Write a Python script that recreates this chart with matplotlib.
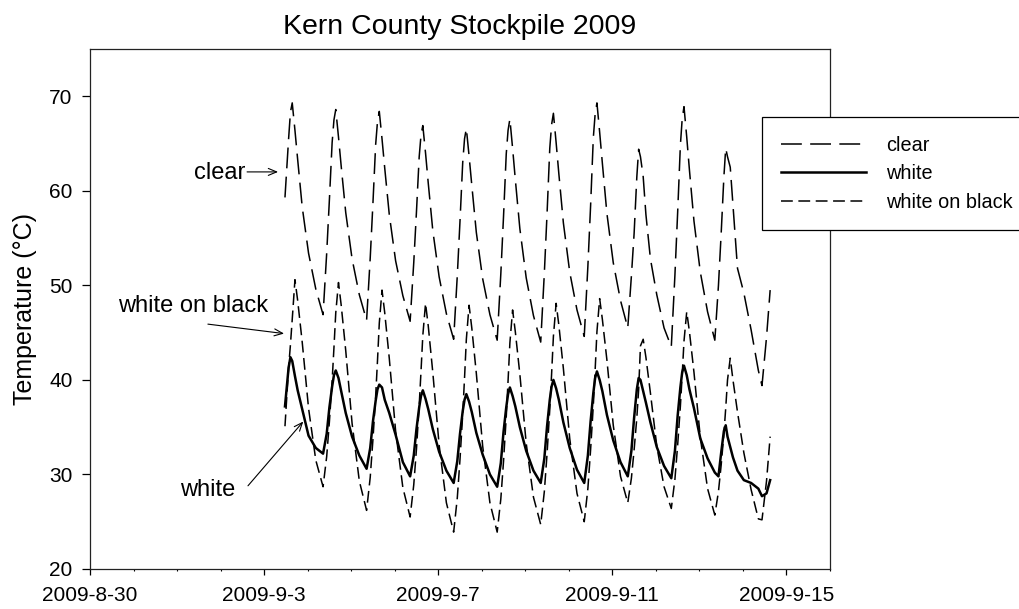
import datetime as dt
import matplotlib
matplotlib.use('Agg')
from matplotlib import pyplot as plt
import matplotlib.dates as mdates

plt.rcParams['font.family'] = ['Liberation Sans', 'DejaVu Sans']
plt.rcParams['lines.scale_dashes'] = False

# logger readings: one list per day, hours of day for each reading
days = ['2009-09-03', '2009-09-04', '2009-09-05', '2009-09-06', '2009-09-07', '2009-09-08',
        '2009-09-09', '2009-09-10', '2009-09-11', '2009-09-12', '2009-09-13', '2009-09-14']
hours_first = [11.5, 13.5, 14.5, 15.5, 17, 18.5, 21]
hours_full = [0.5, 4.5, 8.5, 10.5, 12, 13.5, 14.5, 15.5, 17, 18.5, 21]
hours_last = [0.5, 4.5, 8.5, 10.5, 13, 15]

clear = [
    [59.3, 65.5, 68.3, 69.3, 66.4, 63.3, 58.3],
    [53.4, 49.6, 46.9, 53.4, 59.1, 65.1, 67.5, 68.6, 65.7, 62.6, 57.7],
    [52.8, 49.0, 46.3, 52.9, 58.7, 64.9, 67.3, 68.4, 65.5, 62.4, 57.5],
    [52.6, 48.9, 46.2, 52.4, 57.8, 63.6, 65.9, 66.9, 64.0, 60.8, 55.8],
    [50.9, 47.0, 44.3, 51.0, 56.8, 63.0, 65.5, 66.6, 63.7, 60.6, 55.6],
    [50.7, 46.9, 44.2, 51.2, 57.3, 63.9, 66.4, 67.6, 64.5, 61.2, 56.0],
    [50.8, 46.8, 44.0, 51.3, 57.6, 64.5, 67.0, 68.2, 65.1, 61.8, 56.6],
    [51.4, 47.4, 44.6, 52.0, 58.4, 65.6, 68.1, 69.3, 66.2, 62.9, 57.6],
    [52.4, 48.4, 45.5, 51.0, 55.5, 61.5, 64.4, 63.6, 61.5, 57.5, 52.8],
    [49.0, 45.5, 43.5, 51.1, 57.7, 64.8, 67.6, 68.9, 65.7, 62.2, 56.8],
    [51.4, 47.2, 44.2, 50.0, 55.5, 61.5, 64.5, 63.6, 62.5, 58.5, 51.8],
    [49.2, 45.3, 41.0, 39.4, 44.5, 49.5],
]
white = [
    [37.2, 41.3, 42.4, 42.0, 40.4, 38.9, 36.9],
    [34.1, 32.8, 32.2, 34.3, 37.1, 39.3, 40.5, 41.0, 40.2, 38.8, 36.5],
    [34.0, 32.0, 30.6, 32.8, 35.6, 37.8, 39.0, 39.5, 39.2, 37.9, 36.5],
    [34.2, 31.3, 29.8, 32.0, 34.8, 37.1, 38.3, 38.9, 38.0, 36.9, 34.8],
    [32.4, 30.4, 29.1, 31.4, 34.3, 36.7, 37.9, 38.5, 37.7, 36.6, 34.4],
    [32.1, 30.0, 28.7, 31.2, 34.5, 37.1, 38.5, 39.2, 38.3, 37.2, 35.0],
    [32.5, 30.4, 29.1, 31.7, 35.1, 37.9, 39.3, 40.0, 39.1, 37.9, 35.5],
    [32.8, 30.5, 29.1, 32.0, 35.6, 38.6, 40.2, 40.9, 40.0, 38.8, 36.3],
    [33.6, 31.3, 29.8, 32.5, 36.0, 39.0, 40.2, 40.0, 38.8, 37.6, 35.5],
    [32.9, 30.9, 29.6, 32.5, 36.2, 39.2, 40.8, 41.5, 40.5, 39.0, 37.0],
    [33.8, 31.7, 30.2, 29.8, 32.3, 34.6, 35.2, 34.0, 32.9, 31.8, 30.4],
    [29.4, 29.1, 28.5, 27.7, 28.0, 29.4],
]
white_on_black = [
    [35.1, 41.3, 43.7, 46.4, 50.6, 48.4, 44.0],
    [37.0, 31.5, 28.7, 31.9, 35.6, 39.9, 43.4, 47.1, 50.3, 47.9, 43.1],
    [35.4, 29.3, 26.2, 29.7, 33.7, 38.3, 42.0, 46.0, 49.5, 47.1, 42.3],
    [34.6, 28.6, 25.5, 28.9, 32.7, 37.3, 40.9, 44.7, 48.1, 45.7, 40.8],
    [33.1, 27.0, 23.9, 27.5, 31.6, 36.4, 40.2, 44.3, 47.9, 45.5, 40.7],
    [33.0, 27.0, 23.9, 27.4, 31.4, 36.1, 39.9, 43.9, 47.4, 45.1, 40.6],
    [33.3, 27.6, 24.7, 28.2, 32.2, 36.9, 40.6, 44.6, 48.1, 45.8, 41.2],
    [33.8, 28.0, 25.0, 28.5, 32.6, 37.3, 41.0, 45.1, 48.6, 46.4, 42.1],
    [35.2, 29.8, 27.0, 29.6, 32.6, 36.0, 39.0, 43.6, 44.3, 42.4, 38.6],
    [33.0, 28.7, 26.4, 29.5, 33.1, 37.2, 40.5, 44.1, 47.2, 45.1, 40.8],
    [33.9, 28.5, 25.7, 28.2, 31.0, 34.3, 37.0, 40.0, 42.3, 40.0, 36.6],
    [32.3, 28.4, 25.3, 25.2, 29.3, 34.0],
]

tick_dates = ['2009-08-30', '2009-09-03', '2009-09-07', '2009-09-11', '2009-09-15']
tick_labels = ['2009-8-30', '2009-9-3', '2009-9-7', '2009-9-11', '2009-9-15']

# build the time axis from the day list
day_hours = [hours_first] + [hours_full] * 10 + [hours_last]
times = []
for day, hrs in zip(days, day_hours):
    base = dt.datetime.strptime(day, '%Y-%m-%d')
    times += [base + dt.timedelta(hours=h) for h in hrs]

clear_y = sum(clear, [])
white_y = sum(white, [])
wob_y = sum(white_on_black, [])

fig = plt.figure(figsize=(10.2, 6.09), dpi=100)
ax = fig.add_axes([90 / 1020, 1 - 569 / 609, 740 / 1020, 520 / 609])

ax.plot(times, clear_y, color='black', lw=1.1, dashes=(15, 6), label='clear')
ax.plot(times, white_y, color='black', lw=1.8, label='white')
ax.plot(times, wob_y, color='black', lw=1.1, dashes=(8.5, 4), label='white on black')

ax.set_xlim(dt.datetime(2009, 8, 30), dt.datetime(2009, 9, 16))
ax.set_ylim(20, 75)
ax.set_xticks([dt.datetime.strptime(d, '%Y-%m-%d') for d in tick_dates])
ax.set_xticklabels(tick_labels)
ax.xaxis.set_minor_locator(mdates.DayLocator())
ax.set_yticks([20, 30, 40, 50, 60, 70])

ax.tick_params(axis='x', which='major', direction='out', length=4.3, width=0.9, pad=8, labelsize=15)
ax.tick_params(axis='x', which='minor', direction='out', length=1.5, width=0.8)
ax.tick_params(axis='y', which='major', direction='out', length=5.5, width=0.9, pad=7, labelsize=15)
for s in ax.spines.values():
    s.set_linewidth(0.9)
    s.set_color('#222222')

ax.set_ylabel('Temperature (\u00b0C)', fontsize=18)
ax.yaxis.set_label_coords(-0.0716, 0.5)
ax.set_title('Kern County Stockpile 2009', fontsize=20.5, pad=11)

# line labels with arrows
arrow = dict(arrowstyle='->,head_length=0.6,head_width=0.25', color='black', lw=0.8,
             shrinkA=0, shrinkB=0)
d = lambda m, dd, h: dt.datetime(2009, m, dd) + dt.timedelta(hours=h)
ax.text(d(9, 2, 13.4), 61.9, 'clear', fontsize=17, ha='right', va='center')
ax.annotate('', xy=(d(9, 3, 7.7), 62.0), xytext=(d(9, 2, 14.6), 62.0), arrowprops=arrow)
ax.text(d(9, 1, 8.6), 47.8, 'white on black', fontsize=17, ha='center', va='center')
ax.annotate('', xy=(d(9, 3, 11.0), 44.9), xytext=(d(9, 1, 17.0), 45.9), arrowprops=arrow)
ax.text(d(9, 2, 7.9), 28.4, 'white', fontsize=17, ha='right', va='center')
ax.annotate('', xy=(d(9, 3, 21.6), 35.6), xytext=(d(9, 2, 15.1), 28.8), arrowprops=arrow)

leg = ax.legend(loc='upper left', bbox_to_anchor=(762 / 1020, 1 - 117 / 609),
                bbox_transform=fig.transFigure, borderaxespad=0, fontsize=14.3,
                fancybox=False, framealpha=1, edgecolor='black',
                handlelength=4.3, handletextpad=1.0, labelspacing=0.47, borderpad=0.95)
leg.get_frame().set_linewidth(0.9)

fig.savefig('out.png', dpi=100)
